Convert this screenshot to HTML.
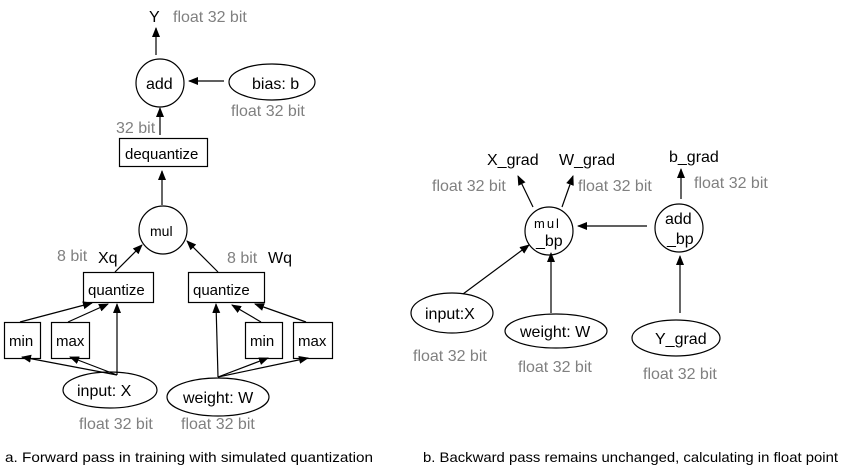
<!DOCTYPE html>
<html><head><meta charset="utf-8"><style>html,body{margin:0;padding:0;background:#fff}svg{display:block}</style></head>
<body>
<svg width="846" height="470" viewBox="0 0 846 470" xmlns="http://www.w3.org/2000/svg" font-family="Liberation Sans, sans-serif">
<defs><marker id="a" markerWidth="10" markerHeight="10" refX="9" refY="5" orient="auto" markerUnits="userSpaceOnUse"><path d="M0,1 L10,5 L0,9 z" fill="#000"/></marker></defs>
<g stroke="#000" stroke-width="1.2" fill="none">
<circle cx="160" cy="83" r="24"/>
<ellipse cx="272" cy="82" rx="43" ry="18"/>
<rect x="119.5" y="138.5" width="88" height="28"/>
<circle cx="163" cy="230" r="24"/>
<rect x="83.5" y="272.5" width="70" height="30"/>
<rect x="188.5" y="272.5" width="76" height="30"/>
<rect x="4.5" y="322.5" width="36" height="36"/>
<rect x="51.5" y="322.5" width="38" height="36"/>
<rect x="245.5" y="322.5" width="37" height="36"/>
<rect x="293.5" y="322.5" width="39" height="36"/>
<ellipse cx="110" cy="390" rx="47" ry="18"/>
<ellipse cx="218" cy="397" rx="51" ry="19"/>
<g marker-end="url(#a)">
<line x1="156" y1="55" x2="156" y2="28"/>
<line x1="224" y1="81" x2="189" y2="81"/>
<line x1="160" y1="135" x2="160" y2="108"/>
<line x1="162" y1="205" x2="162" y2="171"/>
<line x1="115" y1="272" x2="142" y2="245"/>
<line x1="218" y1="272" x2="187" y2="241"/>
<line x1="20" y1="322" x2="92" y2="303"/>
<line x1="68" y1="322" x2="108" y2="304"/>
<line x1="117" y1="375" x2="117" y2="304"/>
<line x1="117" y1="375" x2="22" y2="357"/>
<line x1="117" y1="375" x2="70" y2="357"/>
<line x1="218" y1="377" x2="216" y2="304"/>
<line x1="218" y1="377" x2="268" y2="358"/>
<line x1="218" y1="377" x2="308" y2="358"/>
<line x1="261" y1="322" x2="232" y2="305"/>
<line x1="306" y1="322" x2="255" y2="304"/>
</g>
<circle cx="549" cy="231" r="24"/>
<circle cx="679" cy="228" r="24"/>
<ellipse cx="452" cy="313" rx="41" ry="20"/>
<ellipse cx="556" cy="331" rx="51" ry="17"/>
<ellipse cx="676" cy="338" rx="44" ry="18"/>
<g marker-end="url(#a)">
<line x1="533" y1="207" x2="518" y2="176"/>
<line x1="562" y1="207" x2="573" y2="176"/>
<line x1="681" y1="199" x2="681" y2="169"/>
<line x1="647" y1="226" x2="578" y2="226"/>
<line x1="463" y1="294" x2="529" y2="245"/>
<line x1="551" y1="313" x2="551" y2="253"/>
<line x1="680" y1="313" x2="680" y2="256"/>
</g>
</g>
<g font-size="16" fill="#000">
<text x="149" y="22">Y</text>
<text x="146" y="89">add</text>
<text x="252" y="89">bias: b</text>
<text x="98" y="263">Xq</text>
<text x="268" y="263">Wq</text>
<text x="77" y="396">input: X</text>
<text x="183" y="403">weight: W</text>
<text x="487" y="165">X_grad</text>
<text x="559" y="165">W_grad</text>
<text x="669" y="162">b_grad</text>
<text x="425" y="319">input:X</text>
<text x="520" y="337">weight: W</text>
<text x="655" y="344">Y_grad</text>
<text x="665" y="224">add</text>
<text x="667" y="244">_bp</text>
</g>
<g font-size="15" fill="#000">
<text x="125" y="159">dequantize</text>
<text x="88" y="295">quantize</text>
<text x="193" y="295">quantize</text>
<text x="9" y="346">min</text>
<text x="56" y="346">max</text>
<text x="250" y="346">min</text>
<text x="298" y="346">max</text>
<text x="150" y="236" font-size="14">mul</text>
<text x="534" y="228" font-size="13" letter-spacing="2">mul</text>
<text x="536" y="246" font-size="16">_bp</text>
</g>
<g font-size="16" fill="#808080">
<text x="173" y="22">float 32 bit</text>
<text x="231" y="116">float 32 bit</text>
<text x="116" y="133">32 bit</text>
<text x="57" y="261">8 bit</text>
<text x="227" y="263">8 bit</text>
<text x="79" y="429">float 32 bit</text>
<text x="181" y="429">float 32 bit</text>
<text x="432" y="191">float 32 bit</text>
<text x="578" y="191">float 32 bit</text>
<text x="694" y="188">float 32 bit</text>
<text x="413" y="361">float 32 bit</text>
<text x="518" y="372">float 32 bit</text>
<text x="643" y="379">float 32 bit</text>
</g>
<g font-size="14" fill="#000">
<text x="5" y="462" textLength="368" lengthAdjust="spacingAndGlyphs">a.  Forward pass in training with simulated quantization</text>
<text x="423" y="462" textLength="415" lengthAdjust="spacingAndGlyphs">b.  Backward pass remains unchanged, calculating in float point</text>
</g>
</svg>
</body></html>
